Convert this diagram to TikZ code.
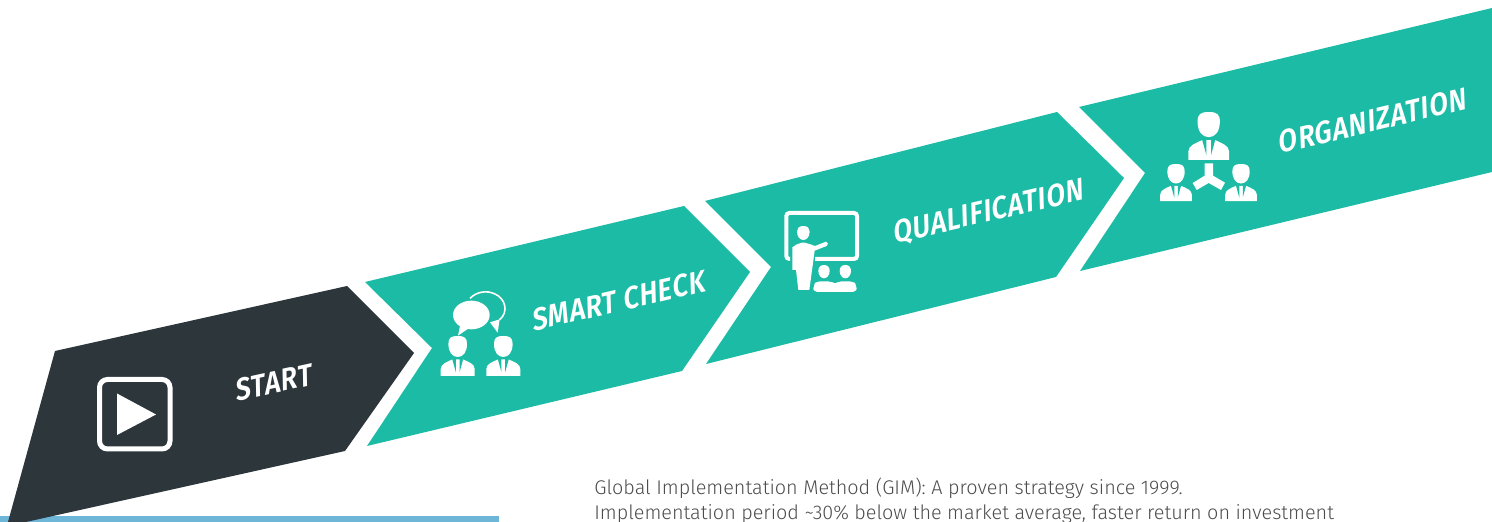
\documentclass[tikz,border=0pt]{standalone}
\usepackage{fontspec}
\setmainfont{Fira Sans Light}
\newfontfamily\labelfont[FakeSlant=0.2,FakeStretch=0.88,LetterSpace=2.5]{Fira Sans SemiBold}
\definecolor{tealband}{HTML}{1CBBA5}
\definecolor{darkband}{HTML}{2C363B}
\definecolor{bluebar}{HTML}{6DB6D8}
\definecolor{bodygray}{HTML}{4C4C4C}
\tikzset{
  band/.style={fill=tealband},
  steplabel/.style={text=white,font=\labelfont\fontsize{15.5}{17}\selectfont,inner sep=0pt},
  person/.pic={
    \fill[white] (0,0) .. controls (-7,0) and (-9.3,2) .. (-9.3,8) .. controls (-9.3,16) and (-5.5,21) .. (0,21) .. controls (5.5,21) and (9.3,16) .. (9.3,8) .. controls (9.3,2) and (7,0) .. (0,0) -- cycle;
    \fill[white] (-17,40) -- (-17,33) .. controls (-17,28) and (-11,26) .. (-5.5,23.5) -- (5.5,23.5) .. controls (11,26) and (17,28) .. (17,33) -- (17,40) -- cycle;
    \fill[tealband] (-5.5,23) -- (-1.9,23) -- (-1.9,36) -- cycle;
    \fill[tealband] (5.5,23) -- (1.9,23) -- (1.9,36) -- cycle;
  }
}
\begin{document}
\begin{tikzpicture}[x=0.5pt,y=-0.5pt]
\useasboundingbox (0,0) rectangle (1492,522);
% blue bar
\fill[bluebar] (0,516) rectangle (499,522);
% bands
\begin{scope}
\clip (0,0) rectangle (1492,522);
\fill[darkband] (55,351) -- (347,286) -- (414,353) -- (345,451) -- (26,522) -- (8,522) -- cycle;
\end{scope}
\fill[band] (365,282) -- (684,206) -- (750,272) -- (682,371) -- (367,446) -- (432,348) -- cycle;
\fill[band] (705,201) -- (1057,112) -- (1124,178) -- (1056,277) -- (706,364) -- (771,267) -- cycle;
\fill[band] (1079,107) -- (1492,8) -- (1492,172) -- (1080,271) -- (1145,173) -- cycle;
% play icon
\draw[white,line width=2.5pt,rounded corners=4pt] (99.5,379.5) rectangle (170,449);
\fill[white] (117,393.5) -- (156,414.5) -- (117,435) -- cycle;
% smart check icon
\pic at (457.7,336) {person};
\pic at (503.3,336) {person};
\begin{scope}[shift={(420,190)},scale=1/3]
\fill[white] (154,375) ellipse [x radius=55,y radius=43];
\fill[white] (120,408) -- (114,437) -- (146,415) -- cycle;
\draw[white,line width=0.8pt] (150,325) .. controls (170,305) and (200,300) .. (225,312) .. controls (255,325) and (268,365) .. (238,390);
\fill[white] (210,397) -- (233,428) -- (239,388) -- cycle;
\end{scope}
% qualification icon
\begin{scope}[shift={(420,190)},scale=1/3]
\draw[white,line width=2pt,rounded corners=1.5pt] (1110,207) -- (1099,207) -- (1099,69) -- (1311,69) -- (1311,207) -- (1185,207);
\fill[white] (1150,108) .. controls (1136,108) and (1131,116) .. (1131,125) .. controls (1131,140) and (1140,150) .. (1150,150) .. controls (1160,150) and (1169,140) .. (1169,125) .. controls (1169,116) and (1164,108) .. (1150,108) -- cycle;
\fill[white] (1117,240) -- (1117,172) .. controls (1125,165) and (1135,160) .. (1146,158) -- (1154,158) .. controls (1165,160) and (1175,165) .. (1185,168) -- (1218,155) .. controls (1225,155) and (1226,165) .. (1220,168) -- (1184,182) -- (1168,300) -- (1135,300) -- (1128,240) -- cycle;
\fill[white] (1212,225) .. controls (1200,225) and (1195,233) .. (1195,243) .. controls (1195,255) and (1203,265) .. (1212,265) .. controls (1221,265) and (1229,255) .. (1229,243) .. controls (1229,233) and (1224,225) .. (1212,225) -- cycle;
\fill[white] (1276,225) .. controls (1264,225) and (1259,233) .. (1259,243) .. controls (1259,255) and (1267,265) .. (1276,265) .. controls (1285,265) and (1293,255) .. (1293,243) .. controls (1293,233) and (1288,225) .. (1276,225) -- cycle;
\fill[white,rounded corners=2pt] (1180,306) -- (1180,290) .. controls (1185,278) and (1200,274) .. (1212,274) .. controls (1225,274) and (1238,278) .. (1245,285) .. controls (1252,278) and (1265,274) .. (1276,274) .. controls (1290,274) and (1305,278) .. (1310,290) -- (1310,306) -- cycle;
\end{scope}
% organization icon
\pic[scale=1.2] at (1208.7,112) {person};
\pic[scale=0.93] at (1176,164) {person};
\pic[scale=0.93] at (1241,164) {person};
\begin{scope}[shift={(1040,0)},scale=1/3]
\fill[white] (494,490) -- (519,490) -- (519,527) -- (555,548) -- (543,570) -- (506,549) -- (470,570) -- (458,549) -- (494,527) -- cycle;
\end{scope}
% labels
\node[steplabel,rotate=12.5] (start) at (272,383) {START};
\node[steplabel,rotate=13] (smart) at (617,301) {SMART CHECK};
\node[steplabel,rotate=13] (qual) at (987,213) {QUALIFICATION};
\node[steplabel,rotate=13.5] (org) at (1371,121) {ORGANIZATION};
% body text
\node[anchor=north west,inner sep=0pt,text=bodygray,font=\fontsize{9.9}{12.4}\selectfont,align=left] (body) at (594,477.5) {Global Implementation Method (GIM): A proven strategy since 1999.\\Implementation period \textasciitilde30\% below the market average, faster return on investment};
\end{tikzpicture}
\end{document}
